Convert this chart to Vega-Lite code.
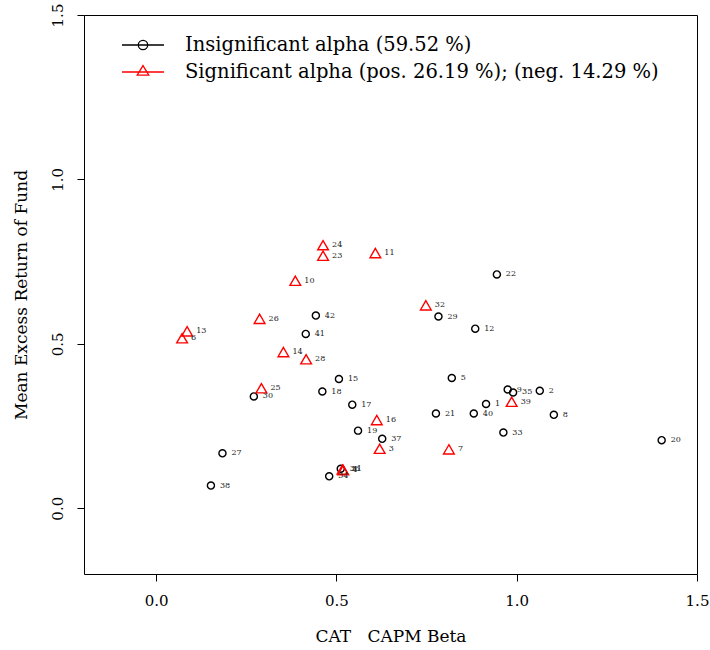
{
  "$schema": "https://vega.github.io/schema/vega-lite/v6.json",
  "width": 613,
  "height": 559,
  "autosize": {"type": "none"},
  "padding": {"left": 84, "top": 15, "right": 13, "bottom": 76},
  "background": "white",
  "config": {
    "view": {"stroke": "black", "strokeWidth": 1},
    "font": "DejaVu Serif",
    "text": {"font": "DejaVu Serif"},
    "legend": {"labelFont": "DejaVu Serif"},
    "axis": {
      "grid": false,
      "domain": false,
      "tickSize": 7,
      "tickColor": "black",
      "tickWidth": 1,
      "labelFont": "DejaVu Serif",
      "labelFontSize": 15,
      "labelColor": "black",
      "titleFont": "DejaVu Serif",
      "titleFontSize": 17,
      "titleFontWeight": "normal",
      "titleColor": "black",
      "labelFlush": false,
      "labelOverlap": false
    }
  },
  "data": {
    "values": [
      {"id": "1", "beta": 0.915, "ret": 0.317, "group": "Insignificant alpha (59.52 %)"},
      {"id": "2", "beta": 1.064, "ret": 0.357, "group": "Insignificant alpha (59.52 %)"},
      {"id": "3", "beta": 0.620, "ret": 0.181, "group": "Significant alpha (pos. 26.19 %); (neg. 14.29 %)"},
      {"id": "4", "beta": 0.519, "ret": 0.116, "group": "Significant alpha (pos. 26.19 %); (neg. 14.29 %)"},
      {"id": "5", "beta": 0.820, "ret": 0.396, "group": "Insignificant alpha (59.52 %)"},
      {"id": "6", "beta": 0.072, "ret": 0.517, "group": "Significant alpha (pos. 26.19 %); (neg. 14.29 %)"},
      {"id": "7", "beta": 0.812, "ret": 0.179, "group": "Significant alpha (pos. 26.19 %); (neg. 14.29 %)"},
      {"id": "8", "beta": 1.103, "ret": 0.284, "group": "Insignificant alpha (59.52 %)"},
      {"id": "9", "beta": 0.975, "ret": 0.361, "group": "Insignificant alpha (59.52 %)"},
      {"id": "10", "beta": 0.386, "ret": 0.692, "group": "Significant alpha (pos. 26.19 %); (neg. 14.29 %)"},
      {"id": "11", "beta": 0.608, "ret": 0.776, "group": "Significant alpha (pos. 26.19 %); (neg. 14.29 %)"},
      {"id": "12", "beta": 0.885, "ret": 0.546, "group": "Insignificant alpha (59.52 %)"},
      {"id": "13", "beta": 0.086, "ret": 0.538, "group": "Significant alpha (pos. 26.19 %); (neg. 14.29 %)"},
      {"id": "14", "beta": 0.353, "ret": 0.475, "group": "Significant alpha (pos. 26.19 %); (neg. 14.29 %)"},
      {"id": "15", "beta": 0.507, "ret": 0.393, "group": "Insignificant alpha (59.52 %)"},
      {"id": "16", "beta": 0.612, "ret": 0.268, "group": "Significant alpha (pos. 26.19 %); (neg. 14.29 %)"},
      {"id": "17", "beta": 0.544, "ret": 0.315, "group": "Insignificant alpha (59.52 %)"},
      {"id": "18", "beta": 0.461, "ret": 0.355, "group": "Insignificant alpha (59.52 %)"},
      {"id": "19", "beta": 0.560, "ret": 0.236, "group": "Insignificant alpha (59.52 %)"},
      {"id": "20", "beta": 1.402, "ret": 0.207, "group": "Insignificant alpha (59.52 %)"},
      {"id": "21", "beta": 0.776, "ret": 0.288, "group": "Insignificant alpha (59.52 %)"},
      {"id": "22", "beta": 0.945, "ret": 0.711, "group": "Insignificant alpha (59.52 %)"},
      {"id": "23", "beta": 0.463, "ret": 0.768, "group": "Significant alpha (pos. 26.19 %); (neg. 14.29 %)"},
      {"id": "24", "beta": 0.463, "ret": 0.800, "group": "Significant alpha (pos. 26.19 %); (neg. 14.29 %)"},
      {"id": "25", "beta": 0.292, "ret": 0.365, "group": "Significant alpha (pos. 26.19 %); (neg. 14.29 %)"},
      {"id": "26", "beta": 0.287, "ret": 0.576, "group": "Significant alpha (pos. 26.19 %); (neg. 14.29 %)"},
      {"id": "27", "beta": 0.184, "ret": 0.167, "group": "Insignificant alpha (59.52 %)"},
      {"id": "28", "beta": 0.416, "ret": 0.453, "group": "Significant alpha (pos. 26.19 %); (neg. 14.29 %)"},
      {"id": "29", "beta": 0.783, "ret": 0.583, "group": "Insignificant alpha (59.52 %)"},
      {"id": "30", "beta": 0.271, "ret": 0.340, "group": "Insignificant alpha (59.52 %)"},
      {"id": "31", "beta": 0.517, "ret": 0.118, "group": "Significant alpha (pos. 26.19 %); (neg. 14.29 %)"},
      {"id": "32", "beta": 0.748, "ret": 0.617, "group": "Significant alpha (pos. 26.19 %); (neg. 14.29 %)"},
      {"id": "33", "beta": 0.963, "ret": 0.230, "group": "Insignificant alpha (59.52 %)"},
      {"id": "34", "beta": 0.480, "ret": 0.097, "group": "Insignificant alpha (59.52 %)"},
      {"id": "35", "beta": 0.990, "ret": 0.352, "group": "Insignificant alpha (59.52 %)"},
      {"id": "36", "beta": 0.512, "ret": 0.120, "group": "Insignificant alpha (59.52 %)"},
      {"id": "37", "beta": 0.627, "ret": 0.211, "group": "Insignificant alpha (59.52 %)"},
      {"id": "38", "beta": 0.152, "ret": 0.069, "group": "Insignificant alpha (59.52 %)"},
      {"id": "39", "beta": 0.986, "ret": 0.324, "group": "Significant alpha (pos. 26.19 %); (neg. 14.29 %)"},
      {"id": "40", "beta": 0.881, "ret": 0.288, "group": "Insignificant alpha (59.52 %)"},
      {"id": "41", "beta": 0.415, "ret": 0.530, "group": "Insignificant alpha (59.52 %)"},
      {"id": "42", "beta": 0.443, "ret": 0.586, "group": "Insignificant alpha (59.52 %)"}
    ]
  },
  "encoding": {
    "x": {
      "field": "beta",
      "type": "quantitative",
      "scale": {"domain": [-0.2, 1.5], "nice": false, "zero": false},
      "axis": {
        "title": "CAT\u00a0\u00a0\u00a0CAPM Beta",
        "values": [0, 0.5, 1, 1.5],
        "format": ".1f",
        "labelPadding": 12,
        "labelBaseline": "top",
        "titlePadding": 20
      }
    },
    "y": {
      "field": "ret",
      "type": "quantitative",
      "scale": {"domain": [-0.2, 1.5], "nice": false, "zero": false},
      "axis": {
        "title": "Mean Excess Return of Fund",
        "values": [0, 0.5, 1, 1.5],
        "format": ".1f",
        "labelAngle": 270,
        "labelAlign": "center",
        "labelBaseline": "bottom",
        "labelPadding": 12,
        "titlePadding": 20
      }
    }
  },
  "layer": [
    {
      "transform": [{"filter": "datum.group === 'Insignificant alpha (59.52 %)'"}],
      "mark": {"type": "point", "shape": "circle", "size": 50, "filled": false, "strokeWidth": 1.4, "opacity": 1},
      "encoding": {
        "color": {
          "field": "group",
          "type": "nominal",
          "scale": {"domain": ["Insignificant alpha (59.52 %)"], "range": ["#000000"]},
          "legend": {
            "title": null,
            "orient": "none",
            "legendX": 48,
            "legendY": 19,
            "padding": 0,
            "labelFont": "DejaVu Serif",
            "labelFontSize": 19.5,
            "labelColor": "black",
            "labelOffset": 31,
            "labelLimit": 0,
            "symbolType": "M-2.1,0L2.1,0M0.47,0A0.47,0.47,0,1,1,-0.47,0A0.47,0.47,0,1,1,0.47,0",
            "symbolSize": 400,
            "symbolStrokeWidth": 1.3,
            "symbolFillColor": "transparent",
            "symbolStrokeColor": "#000000"
          }
        }
      }
    },
    {
      "transform": [{"filter": "datum.group === 'Significant alpha (pos. 26.19 %); (neg. 14.29 %)'"}],
      "mark": {"type": "point", "shape": "triangle-up", "size": 115, "filled": false, "strokeWidth": 1.4, "opacity": 1},
      "encoding": {
        "color": {
          "field": "group",
          "type": "nominal",
          "scale": {"domain": ["Significant alpha (pos. 26.19 %); (neg. 14.29 %)"], "range": ["#ff0000"]},
          "legend": {
            "title": null,
            "orient": "none",
            "legendX": 48,
            "legendY": 46,
            "padding": 0,
            "labelFont": "DejaVu Serif",
            "labelFontSize": 19.5,
            "labelColor": "black",
            "labelOffset": 31,
            "labelLimit": 0,
            "symbolType": "M-2.1,0L2.1,0M0,-0.64L0.58,0.32L-0.58,0.32Z",
            "symbolSize": 400,
            "symbolStrokeWidth": 1.3,
            "symbolFillColor": "transparent",
            "symbolStrokeColor": "#ff0000"
          }
        }
      }
    },
    {
      "mark": {"type": "text", "align": "left", "baseline": "middle", "dx": 9, "fontSize": 8, "font": "DejaVu Serif", "color": "#222222"},
      "encoding": {
        "text": {"field": "id", "type": "nominal"}
      }
    }
  ],
  "resolve": {"scale": {"color": "independent"}, "legend": {"color": "independent"}}
}
